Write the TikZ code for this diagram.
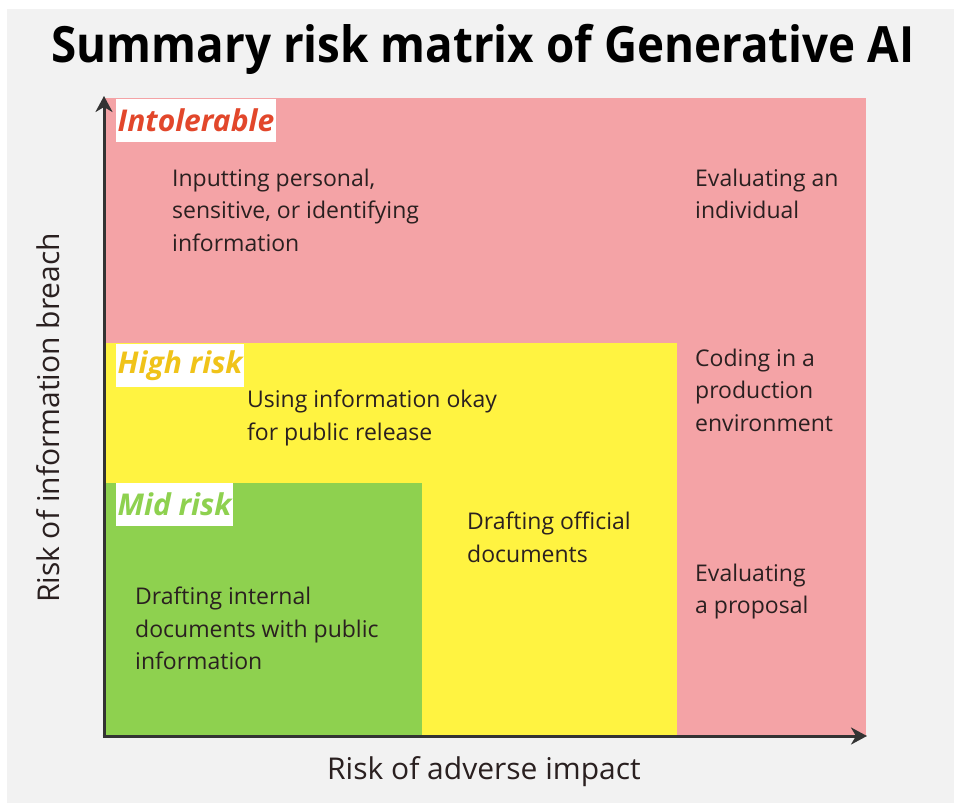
\documentclass[tikz,border=0pt]{standalone}
\usepackage{fontspec}
\setmainfont{Open Sans}
\usetikzlibrary{arrows.meta}
\definecolor{bggray}{HTML}{F2F2F2}
\definecolor{redzone}{HTML}{F4A3A6}
\definecolor{yellowzone}{HTML}{FFF341}
\definecolor{greenzone}{HTML}{8ED14F}
\definecolor{intolc}{HTML}{E2472B}
\definecolor{highc}{HTML}{F0C319}
\definecolor{midc}{HTML}{8ED14F}
\definecolor{axisc}{HTML}{333333}
\definecolor{txtc}{HTML}{2A2020}
\tikzset{
  x=1pt, y=-1pt,
  zonelabel/.style={fill=white, anchor=north west, inner xsep=1.5pt, inner ysep=3pt,
    font=\fontsize{30}{34}\selectfont\bfseries\itshape, minimum height=43pt},
  cell/.style={anchor=north west, align=left, text=txtc, inner sep=0pt,
    font=\fontsize{23}{32.3}\selectfont},
  axislabel/.style={text=txtc, font=\fontsize{30}{34}\selectfont},
  axisline/.style={draw=axisc, line width=3pt, -{Stealth[length=16pt,width=17pt,inset=5pt]}}
}
\begin{document}
\begin{tikzpicture}
\useasboundingbox (0,0) rectangle (954,803);
\fill[white] (0,0) rectangle (954,803);
\fill[bggray] (7,9) rectangle (954,803);
\node[font=\fontsize{50}{55}\selectfont\bfseries, text=black] (title) at (483,49) {\scalebox{0.915}[1]{Summary risk matrix of Generative AI}};
% zones
\fill[redzone] (104,98) rectangle (866,736);
\fill[yellowzone] (104,343) rectangle (677,736);
\fill[greenzone] (104,483) rectangle (422,736);
% zone labels
\node[zonelabel, text=intolc] (intol) at (116,99) {Intolerable};
\node[zonelabel, text=highc] (high) at (116,344) {High risk};
\node[zonelabel, text=midc] (mid) at (116,483) {Mid risk};
% cell texts
\node[cell] (c1) at (172,169) {Inputting personal,\\sensitive, or identifying\\information};
\node[cell] (c2) at (695,169) {Evaluating an\\individual};
\node[cell] (c3) at (695,349) {Coding in a\\production\\environment};
\node[cell] (c4) at (247,390) {Using information okay\\for public release};
\node[cell] (c5) at (467,512) {Drafting official\\documents};
\node[cell] (c6) at (695,564) {Evaluating\\a proposal};
\node[cell] (c7) at (135,587) {Drafting internal\\documents with public\\information};
% axes
\coordinate (origin) at (104,736);
\coordinate (ytop) at (104,96);
\coordinate (xend) at (867,736);
\draw[axisline] (origin) -- (ytop);
\draw[axisline] ([xshift=-1.5pt]origin) -- (xend);
\node[axislabel] (xlab) at (484,772) {Risk of adverse impact};
\node[axislabel, rotate=90] (ylab) at (48,418) {Risk of information breach};
\end{tikzpicture}
\end{document}
